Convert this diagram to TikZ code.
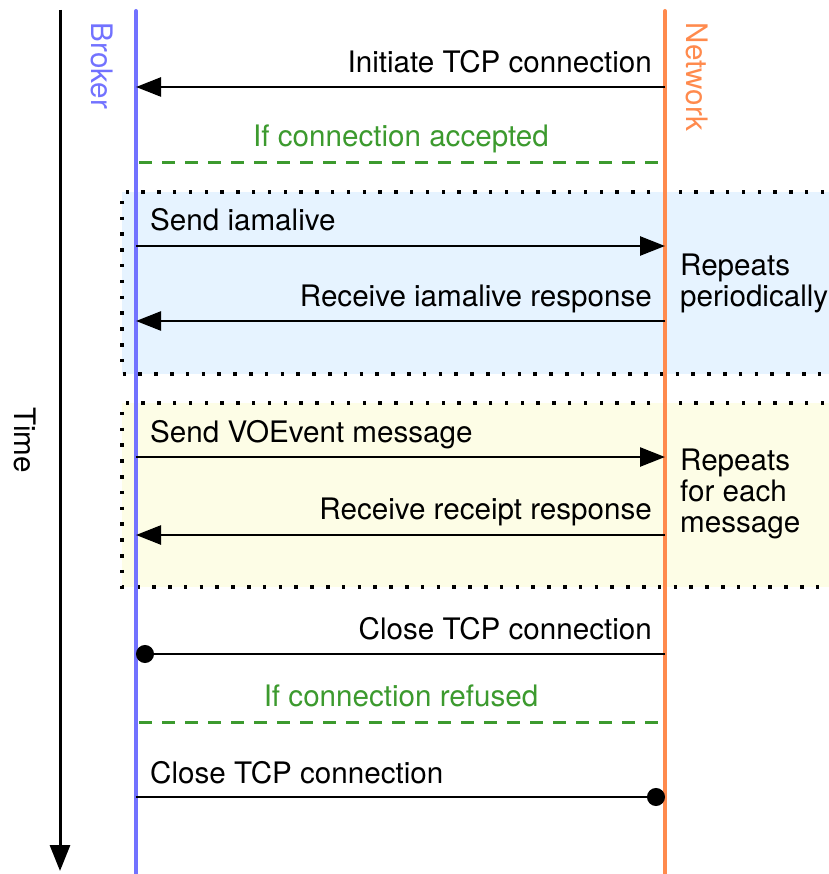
\documentclass[tikz,border=0pt]{standalone}
\usepackage{fontspec}
\setmainfont{TeX Gyre Heros}
\usepackage{tikz}
\usetikzlibrary{arrows.meta}
\usetikzlibrary{positioning}

\definecolor{brokerblue}{HTML}{7272FF}
\definecolor{netorange}{HTML}{FF8A4D}
\definecolor{condgreen}{HTML}{3C9A2E}
\definecolor{pingfill}{HTML}{E6F3FF}
\definecolor{eventfill}{HTML}{FDFDE6}

\begin{document}
\begin{tikzpicture}[x=1pt, y=-1pt, font=\fontsize{29.6}{31}\selectfont, lifeline/.style={line width=4pt, line cap=round}, message/.style={line width=2.5pt, -{Triangle[length=25pt, width=19pt]}}, closing/.style={line width=2.5pt, -{Circle[length=18pt]}}, condition/.style={line width=3pt, condgreen, dash pattern=on 13pt off 10pt}, repeatbox/.style={line width=3.5pt, dash pattern=on 3.5pt off 12.3pt}, timeline/.style={line width=3pt, -{Triangle[length=26pt, width=20pt]}}, condlabel/.style={condgreen, anchor=base, inner sep=0pt}, msglabel/.style={inner sep=0pt}, actor/.style={rotate=-90}]
\useasboundingbox (0,0) rectangle (828,874);
% repeat boxes
\fill [pingfill] (122,192) rectangle (840,374);
\draw [repeatbox] (840,192) -- (122,192) -- (122,374) -- (840,374);
\fill [eventfill] (122,403) rectangle (840,587);
\draw [repeatbox] (840,403) -- (122,403) -- (122,587) -- (840,587);
% time axis and lifelines
\coordinate (tstart) at (60,10);
\coordinate (tend) at (60,871);
\draw [timeline] (tstart) -- (tend);
\node [actor] (time) at (25,440) {Time};
\coordinate (btop) at (136,11);
\coordinate (bbot) at (136,880);
\coordinate (ntop) at (665,11);
\coordinate (nbot) at (665,880);
\draw [lifeline, brokerblue] (btop) -- (bbot);
\draw [lifeline, netorange] (ntop) -- (nbot);
\node [actor, brokerblue] (broker) at (102,66) {Broker};
\node [actor, netorange] (network) at (697,77) {Network};
% connection
\coordinate (b1) at (136,87);
\coordinate (n1) at (665,87);
\draw [message] (n1) -- (b1);
\node [msglabel, anchor=base east] (initiate) at (652,73) {Initiate TCP connection};
\node [condlabel] (accepted) at (401,147) {If connection accepted};
\coordinate (b2) at (139,163);
\coordinate (n2) at (665,163);
\draw [condition] (b2) -- (n2);
% iamalive
\coordinate (b3) at (136,246);
\coordinate (n3) at (665,246);
\draw [message] (b3) -- (n3);
\node [msglabel, anchor=base west] (sendalive) at (150,231) {Send iamalive};
\coordinate (b4) at (136,321);
\coordinate (n4) at (665,321);
\draw [message] (n4) -- (b4);
\node [msglabel, anchor=base east] (recvalive) at (652,306) {Receive iamalive response};
\node [anchor=west, align=left, inner sep=0pt] (periodic) at (680,283) {Repeats\\periodically};
% voevent
\coordinate (b5) at (136,457);
\coordinate (n5) at (665,457);
\draw [message] (b5) -- (n5);
\node [msglabel, anchor=base west] (sendevent) at (150,442) {Send VOEvent message};
\coordinate (b6) at (136,535);
\coordinate (n6) at (665,535);
\draw [message] (n6) -- (b6);
\node [msglabel, anchor=base east] (recvreceipt) at (652,519) {Receive receipt response};
\node [anchor=west, align=left, inner sep=0pt] (eachmsg) at (680,494) {Repeats\\for each\\message};
% closing
\coordinate (b7) at (136,654);
\coordinate (n7) at (665,654);
\draw [closing] (n7) -- (b7);
\node [msglabel, anchor=base east] (closenet) at (652,639) {Close TCP connection};
\node [condlabel] (refused) at (401,706) {If connection refused};
\coordinate (b8) at (139,722);
\coordinate (n8) at (665,722);
\draw [condition] (b8) -- (n8);
\coordinate (b9) at (136,797);
\coordinate (n9) at (665,797);
\draw [closing] (b9) -- (n9);
\node [msglabel, anchor=base west] (closebroker) at (150,783) {Close TCP connection};
\end{tikzpicture}
\end{document}
